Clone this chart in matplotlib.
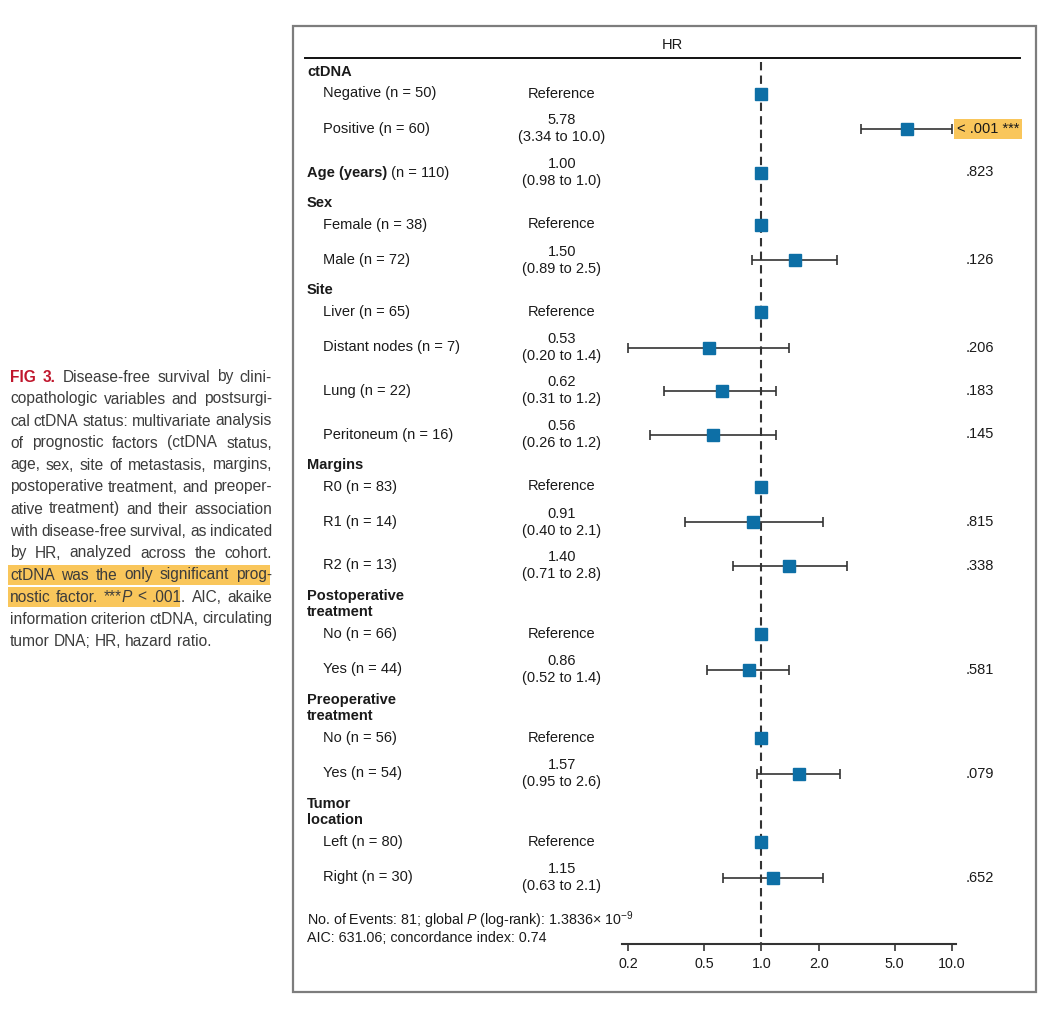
import numpy as np
import matplotlib
matplotlib.use("Agg")
import matplotlib.pyplot as plt
from matplotlib.patches import Rectangle
from matplotlib import font_manager

plt.rcParams['font.family'] = ['Liberation Sans', 'DejaVu Sans']
plt.rcParams['mathtext.fontset'] = 'custom'
plt.rcParams['mathtext.rm'] = 'Liberation Sans'
plt.rcParams['mathtext.it'] = 'Liberation Sans:italic'

# ---- data ----
group_names = ["ctDNA", "Age (years)", "Sex", "Site", "Margins",
               "Postoperative\ntreatment", "Preoperative\ntreatment", "Tumor\nlocation"]
row_group = [0, 0, 1, 2, 2, 3, 3, 3, 3, 4, 4, 4, 5, 5, 6, 6, 7, 7]
row_label = ["Negative", "Positive", "Age (years)", "Female", "Male", "Liver",
             "Distant nodes", "Lung", "Peritoneum", "R0", "R1", "R2",
             "No", "Yes", "No", "Yes", "Left", "Right"]
row_n = [50, 60, 110, 38, 72, 65, 7, 22, 16, 83, 14, 13, 66, 44, 56, 54, 80, 30]
hr = [1, 5.78, 1.00, 1, 1.50, 1, 0.53, 0.62, 0.56, 1, 0.91, 1.40, 1, 0.86, 1, 1.57, 1, 1.15]
nan = np.nan
ci_lo = [nan, 3.34, 0.98, nan, 0.89, nan, 0.20, 0.31, 0.26, nan, 0.40, 0.71, nan, 0.52, nan, 0.95, nan, 0.63]
ci_hi = [nan, 10.0, 1.0, nan, 2.5, nan, 1.4, 1.2, 1.2, nan, 2.1, 2.8, nan, 1.4, nan, 2.6, nan, 2.1]
pvals = ["", "< .001 ***", ".823", "", ".126", "", ".206", ".183", ".145", "",
         ".815", ".338", "", ".581", "", ".079", "", ".652"]
signif = [False, True] + [False] * 16

tick_vals = [0.2, 0.5, 1.0, 2.0, 5.0, 10.0]
tick_labels = ["0.2", "0.5", "1.0", "2.0", "5.0", "10.0"]

footer1 = r"No. of Events: 81; global $\mathit{P}$ (log-rank): 1.3836$\times$ 10$^{-9}$"
footer2 = "AIC: 631.06; concordance index: 0.74"

caption = [
    "FIG 3. Disease-free survival by clini-",
    "copathologic variables and postsurgi-",
    "cal ctDNA status: multivariate analysis",
    "of prognostic factors (ctDNA status,",
    "age, sex, site of metastasis, margins,",
    "postoperative treatment, and preoper-",
    "ative treatment) and their association",
    "with disease-free survival, as indicated",
    "by HR, analyzed across the cohort.",
    "ctDNA was the only significant prog-",
    "nostic factor. ***P < .001. AIC, akaike",
    "information criterion ctDNA, circulating",
    "tumor DNA; HR, hazard ratio.",
]

TXT = '#1a1a1a'
CAP = '#3c3c3c'
RED = '#c0162c'
BLUE = '#0d6fa6'
HIL = '#f9c65b'
FS = 10.5

# narrow face for the caption if it is there
installed = {f.name for f in font_manager.fontManager.ttflist}
if 'Liberation Sans Narrow' in installed:
    cap_family = ['Liberation Sans Narrow', 'DejaVu Sans']
    cap_fs = 13
else:
    cap_family = ['Liberation Sans', 'DejaVu Sans']
    cap_fs = 11.2

fig = plt.figure(figsize=(10.51, 10.11), dpi=100)
bg = fig.add_axes([0, 0, 1, 1])
bg.set_xlim(0, 1051)
bg.set_ylim(1011, 0)
bg.axis('off')
renderer = fig.canvas.get_renderer()


def put_runs(x, y, parts, size, color=TXT, family=None):
    # parts: (text, weight, style, color or None)
    for txt, weight, style, col in parts:
        t = bg.text(x, y, txt, fontsize=size, fontweight=weight, fontstyle=style,
                    color=col or color, va='center', ha='left')
        if family:
            t.set_family(family)
        x += t.get_window_extent(renderer).width
    return x


# ---- caption on the left, justified ----
cap_left, cap_right = 10, 272
cap_y0, cap_dy = 377, 22
bg.add_patch(Rectangle((8, cap_y0 + 9 * cap_dy - 10), 262, 20, fc=HIL, ec='none', zorder=0))
bg.add_patch(Rectangle((8, cap_y0 + 10 * cap_dy - 10), 172, 20, fc=HIL, ec='none', zorder=0))

for i, line in enumerate(caption):
    y = cap_y0 + i * cap_dy
    words = line.split(" ")
    word_parts = []
    for j, w in enumerate(words):
        if i == 0 and j < 2:
            word_parts.append([(w, 'bold', 'normal', RED)])
        elif w == "***P":
            word_parts.append([("***", 'normal', 'normal', None), ("P", 'normal', 'italic', None)])
        else:
            word_parts.append([(w, 'normal', 'normal', None)])
    # measure words
    widths = []
    for parts in word_parts:
        wsum = 0
        for txt, weight, style, col in parts:
            t = bg.text(0, 0, txt, fontsize=cap_fs, fontweight=weight, fontstyle=style,
                        family=cap_family)
            wsum += t.get_window_extent(renderer).width
            t.remove()
        widths.append(wsum)
    if i < len(caption) - 1:
        gap = (cap_right - cap_left - sum(widths)) / (len(words) - 1)
    else:
        gap = 4.0
    x = cap_left
    for parts, wd in zip(word_parts, widths):
        put_runs(x, y, parts, cap_fs, CAP, cap_family)
        x += wd + gap

# ---- the boxed forest plot ----
bg.add_patch(Rectangle((293, 26), 743, 966, fill=False, ec='#7d7d7d', lw=1.6))
bg.text(672, 45, "HR", fontsize=FS, color=TXT, ha='center', va='center')
bg.plot([305, 1020], [58, 58], color='#111111', lw=1.4)

# row layout (vertical spacing of the table)
row_y = []
group_y = []
y = 72
prev = None
for g, name in enumerate(group_names):
    idx = [k for k in range(len(row_label)) if row_group[k] == g]
    if len(idx) == 1 and row_label[idx[0]] == name:
        y += 43.5 if prev == 'est' else 35.5
        group_y.append([y])
        row_y.append(y)
        prev = 'est'
        continue
    if prev is not None:
        y += 30.5
    lines = name.split("\n")
    group_y.append([y + 16.5 * m for m in range(len(lines))])
    y += 16.5 * (len(lines) - 1)
    prev = 'head'
    for k in idx:
        if prev == 'head':
            y += 21.5
        elif prev == 'ref':
            y += 35.5
        else:
            y += 43.5
        row_y.append(y)
        prev = 'ref' if np.isnan(ci_lo[k]) else 'est'

# group headers and row labels
for g, name in enumerate(group_names):
    idx = [k for k in range(len(row_label)) if row_group[k] == g]
    if len(idx) == 1 and row_label[idx[0]] == name:
        k = idx[0]
        put_runs(307, row_y[k], [(name, 'bold', 'normal', None),
                                 (" (n = %d)" % row_n[k], 'normal', 'normal', None)], FS)
        continue
    for ln, gy in zip(name.split("\n"), group_y[g]):
        bg.text(307, gy, ln, fontsize=FS, fontweight='bold', color=TXT, va='center')
    for k in idx:
        bg.text(323, row_y[k], "%s (n = %d)" % (row_label[k], row_n[k]),
                fontsize=FS, color=TXT, va='center')

# HR column and p values
for k in range(len(row_label)):
    if np.isnan(ci_lo[k]):
        bg.text(562, row_y[k], "Reference", fontsize=FS, color=TXT, ha='center', va='center')
    else:
        bg.text(562, row_y[k] - 8.5, "%.2f" % hr[k], fontsize=FS, color=TXT, ha='center', va='center')
        bg.text(562, row_y[k] + 8.5, "(%.2f to %.1f)" % (ci_lo[k], ci_hi[k]),
                fontsize=FS, color=TXT, ha='center', va='center')
    if pvals[k]:
        if signif[k]:
            bg.text(957, row_y[k], pvals[k], fontsize=FS, color=TXT, va='center',
                    bbox=dict(boxstyle='square,pad=0.18', fc=HIL, ec='none'))
        else:
            bg.text(966, row_y[k], pvals[k], fontsize=FS, color=TXT, va='center')

# footer
bg.text(307, 920, footer1, fontsize=10.3, color=TXT, va='center')
bg.text(307, 938, footer2, fontsize=10.3, color=TXT, va='center')

# forest axes (log scale)
ax = fig.add_axes([622 / 1051, 0, (956 - 622) / 1051, 1])
ax.patch.set_alpha(0)
ax.set_xscale('log')
ax.set_xlim(0.186, 10.5)
ax.set_ylim(1011, 0)
for s in ['top', 'left', 'right']:
    ax.spines[s].set_visible(False)
ax.spines['bottom'].set_position(('data', 944))
ax.spines['bottom'].set_linewidth(1.5)
ax.spines['bottom'].set_color('#333333')
ax.set_yticks([])
ax.set_xticks(tick_vals)
ax.set_xticklabels(tick_labels)
ax.xaxis.set_minor_locator(matplotlib.ticker.NullLocator())
ax.tick_params(axis='x', direction='out', length=5, width=1.2, color='#333333',
               labelsize=10.3, labelcolor=TXT, pad=4)

ax.plot([1, 1], [62, 944], color='#333333', lw=1.5, ls=(0, (4, 2.5)), zorder=1)

hr_a = np.array(hr)
lo_a = np.array(ci_lo)
hi_a = np.array(ci_hi)
ys = np.array(row_y)
has_ci = ~np.isnan(lo_a)
ax.errorbar(hr_a[has_ci], ys[has_ci],
            xerr=[hr_a[has_ci] - lo_a[has_ci], hi_a[has_ci] - hr_a[has_ci]],
            fmt='none', ecolor='#333333', elinewidth=1.2, capsize=3.5, capthick=1.2, zorder=2)
ax.plot(hr_a, ys, 's', color=BLUE, ms=8.5, mec=BLUE, zorder=3, clip_on=False)

fig.savefig("out.png", dpi=100)
